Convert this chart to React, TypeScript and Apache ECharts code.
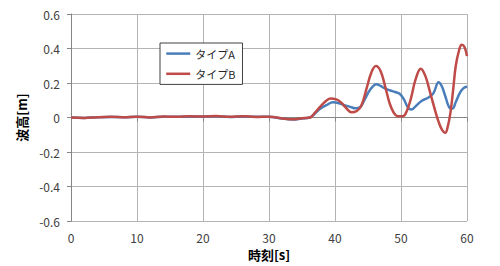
import React, { useEffect, useRef } from "react";
import * as echarts from "echarts";

const xTicks = { min: 0, max: 60, interval: 10 };
const yTicks = { min: -0.6, max: 0.6, interval: 0.2 };

const seriesNames = ["タイプA", "タイプB"];

const timesA = [0, 2, 4, 6, 8, 10, 12, 14, 16, 18, 20, 22, 24, 26, 28, 30, 32, 33.6, 35, 36.2, 37, 37.7, 38.7, 39.7, 40.6, 41.3, 42.3, 43.1, 43.8, 44.5, 45.3, 46.3, 46.9, 47.6, 48.3, 49.1, 49.8, 50.4, 51.1, 51.6, 52.2, 53.1, 54.1, 54.9, 55.7, 56.2, 56.7, 57.4, 57.8, 58.3, 58.9, 59.4, 60];
const valuesA = [0, -0.002, 0.002, 0.003, 0.002, 0.004, 0.001, 0.005, 0.004, 0.006, 0.006, 0.008, 0.003, 0.006, 0.004, 0.005, -0.006, -0.011, -0.005, 0.0, 0.025, 0.05, 0.072, 0.088, 0.083, 0.073, 0.062, 0.054, 0.06, 0.105, 0.16, 0.193, 0.183, 0.168, 0.158, 0.148, 0.138, 0.108, 0.055, 0.046, 0.065, 0.096, 0.115, 0.14, 0.205, 0.18, 0.125, 0.055, 0.052, 0.09, 0.142, 0.168, 0.18];

const timesB = [0, 2, 4, 6, 8, 10, 12, 14, 16, 18, 20, 22, 24, 26, 28, 30, 32, 33.6, 35, 36.2, 37, 37.7, 38.5, 39.3, 40.2, 40.9, 41.7, 42.5, 43.3, 44.0, 44.8, 45.5, 46.2, 46.9, 47.6, 48.3, 48.9, 49.5, 50.3, 50.9, 51.5, 52.2, 53.0, 53.7, 54.4, 55.1, 55.7, 56.2, 56.7, 57.1, 57.5, 57.9, 58.3, 58.8, 59.2, 59.6, 60];
const valuesB = [0, -0.002, 0.002, 0.004, 0.002, 0.005, 0.001, 0.006, 0.004, 0.007, 0.006, 0.009, 0.004, 0.008, 0.003, 0.005, -0.005, -0.01, -0.004, 0.0, 0.03, 0.06, 0.092, 0.111, 0.105, 0.088, 0.055, 0.03, 0.038, 0.07, 0.17, 0.26, 0.298, 0.27, 0.18, 0.08, 0.028, 0.008, 0.008, 0.04, 0.11, 0.22, 0.283, 0.24, 0.147, 0.05, -0.025, -0.07, -0.088, -0.05, 0.03, 0.16, 0.3, 0.39, 0.422, 0.41, 0.356];

const colors = ["#4A7EBB", "#BE4B48"];
const FONT = "'Noto Sans CJK JP', 'Noto Sans', sans-serif";

export default function App() {
  const ref = useRef<HTMLDivElement>(null);
  useEffect(() => {
    if (!ref.current) return;
    const chart = echarts.init(ref.current, undefined, { renderer: "svg" });
    const toPairs = (t: number[], v: number[]) => t.map((x, i) => [x, v[i]]);
    chart.setOption({
      animation: false,
      textStyle: { fontFamily: FONT },
      grid: { left: 71, right: 33, top: 14, bottom: 42 },
      legend: {
        orient: "vertical",
        left: 160,
        top: 43,
        padding: [5, 7, 5, 5],
        itemGap: 9,
        itemWidth: 24,
        itemHeight: 14,
        backgroundColor: "#ffffff",
        borderColor: "#404040",
        borderWidth: 1,
        borderRadius: 0,
        itemStyle: { opacity: 0 },
        lineStyle: { width: 2.5 },
        textStyle: { fontSize: 11, color: "#262626", fontFamily: FONT },
        data: seriesNames,
      },
      xAxis: {
        type: "value",
        min: xTicks.min,
        max: xTicks.max,
        interval: xTicks.interval,
        name: "時刻[s]",
        nameLocation: "middle",
        nameGap: 24,
        nameTextStyle: { fontSize: 13, fontWeight: "bold", color: "#000", fontFamily: FONT },
        axisLine: { show: true, lineStyle: { color: "#868686", width: 1 } },
        axisTick: { show: true, length: 4, lineStyle: { color: "#868686" } },
        axisLabel: { fontSize: 12, color: "#404040", margin: 10 },
        splitLine: { show: true, lineStyle: { color: "#b4b4b4", width: 1 } },
      },
      yAxis: {
        type: "value",
        min: yTicks.min,
        max: yTicks.max,
        interval: yTicks.interval,
        name: "波高[m]",
        nameLocation: "middle",
        nameGap: 38,
        nameTextStyle: { fontSize: 13, fontWeight: "bold", color: "#000", fontFamily: FONT },
        axisLine: { show: true, onZero: false, lineStyle: { color: "#868686", width: 1 } },
        axisTick: { show: true, length: 4, lineStyle: { color: "#868686" } },
        axisLabel: {
          fontSize: 12,
          color: "#404040",
          margin: 11,
          formatter: (v: number) => (Math.abs(v) < 1e-9 ? "0" : v.toFixed(1)),
        },
        splitLine: { show: true, lineStyle: { color: "#b4b4b4", width: 1 } },
      },
      series: [
        {
          name: seriesNames[0],
          type: "line",
          data: toPairs(timesA, valuesA),
          smooth: 0.4,
          symbol: "none",
          lineStyle: { color: colors[0], width: 2.5 },
          itemStyle: { color: colors[0] },
        },
        {
          name: seriesNames[1],
          type: "line",
          data: toPairs(timesB, valuesB),
          smooth: 0.4,
          symbol: "none",
          lineStyle: { color: colors[1], width: 2.5 },
          itemStyle: { color: colors[1] },
        },
      ],
    });
    return () => chart.dispose();
  }, []);
  return <div ref={ref} style={{ width: 500, height: 266, position: "absolute", left: 0, top: 0 }} />;
}
